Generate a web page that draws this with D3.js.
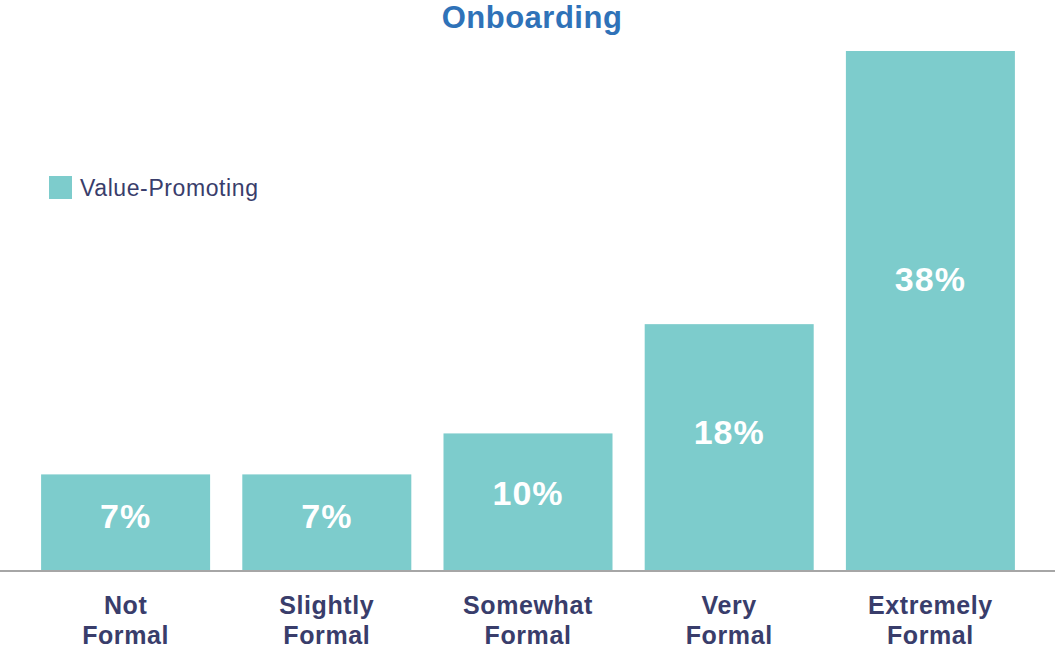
<!DOCTYPE html>
<html>
<head>
<meta charset="utf-8">
<script src="https://cdn.jsdelivr.net/npm/d3@7"></script>
<style>
  html, body { margin: 0; padding: 0; background: #ffffff; }
  svg { display: block; font-family: "Liberation Sans", Arial, Helvetica, sans-serif; }
</style>
</head>
<body>
<svg id="chart" width="1055" height="655"></svg>
<script>
// Share of respondents with value-promoting onboarding, by formality level
const categories = ["Not Formal", "Slightly Formal", "Somewhat Formal", "Very Formal", "Extremely Formal"];
const values = [7, 7, 10, 18, 38];
const seriesName = "Value-Promoting";
const chartTitle = "Onboarding";

const W = 1055, H = 655;
const barColor = "#7dcccc";
const titleColor = "#2f72b8";
const textColor = "#393d6b";

const svg = d3.select("#chart");

const x = d3.scaleBand()
  .domain(categories)
  .range([25, 1031])
  .paddingInner(0.16)
  .paddingOuter(0.08);

const y = d3.scaleLinear()
  .domain([0, d3.max(values)])
  .range([570, 51]);

const data = categories.map((c, i) => ({ cat: c, v: values[i] }));

// Bars
svg.append("g")
  .selectAll("rect")
  .data(data)
  .join("rect")
  .attr("x", d => x(d.cat))
  .attr("width", x.bandwidth())
  .attr("y", d => y(d.v))
  .attr("height", d => y(0) - y(d.v))
  .attr("fill", barColor);

// Value labels inside bars, a little above the bar's middle
svg.append("g")
  .selectAll("text")
  .data(data)
  .join("text")
  .attr("x", d => x(d.cat) + x.bandwidth() / 2)
  .attr("y", d => y(d.v * 0.56))
  .attr("dy", "0.35em")
  .attr("text-anchor", "middle")
  .attr("fill", "#ffffff")
  .attr("font-weight", "bold")
  .attr("font-size", 34)
  .attr("letter-spacing", 1)
  .text(d => d.v + "%");

// Baseline across the full width
svg.append("line")
  .attr("x1", 0)
  .attr("x2", W)
  .attr("y1", y(0) + 1)
  .attr("y2", y(0) + 1)
  .attr("stroke", "#a6a6a6")
  .attr("stroke-width", 2);

// Category axis with two-line labels
const xAxis = svg.append("g")
  .attr("transform", `translate(0,${y(0)})`)
  .call(d3.axisBottom(x).tickSize(0).tickFormat(""));
xAxis.select(".domain").remove();
xAxis.selectAll(".tick text").remove();
xAxis.selectAll(".tick")
  .append("text")
  .attr("text-anchor", "middle")
  .attr("fill", textColor)
  .attr("font-weight", "bold")
  .attr("font-size", 25)
  .attr("letter-spacing", 0.6)
  .attr("font-family", "'Liberation Sans', Arial, sans-serif")
  .each(function(d) {
    const idx = d.lastIndexOf(" ");
    const lines = [d.slice(0, idx), d.slice(idx + 1)];
    const t = d3.select(this);
    lines.forEach((ln, i) => {
      t.append("tspan").attr("x", 0).attr("y", 44 + i * 30).text(ln);
    });
  });

// Title
svg.append("text")
  .attr("x", 532)
  .attr("y", 28)
  .attr("text-anchor", "middle")
  .attr("fill", titleColor)
  .attr("font-weight", "bold")
  .attr("font-size", 31)
  .attr("letter-spacing", 0.5)
  .text(chartTitle);

// Legend
const legend = svg.append("g").attr("transform", "translate(49,176)");
legend.append("rect")
  .attr("width", 23)
  .attr("height", 23)
  .attr("fill", barColor);
legend.append("text")
  .attr("x", 31)
  .attr("y", 20)
  .attr("fill", textColor)
  .attr("font-size", 23)
  .attr("letter-spacing", 0.6)
  .text(seriesName);
</script>
</body>
</html>
